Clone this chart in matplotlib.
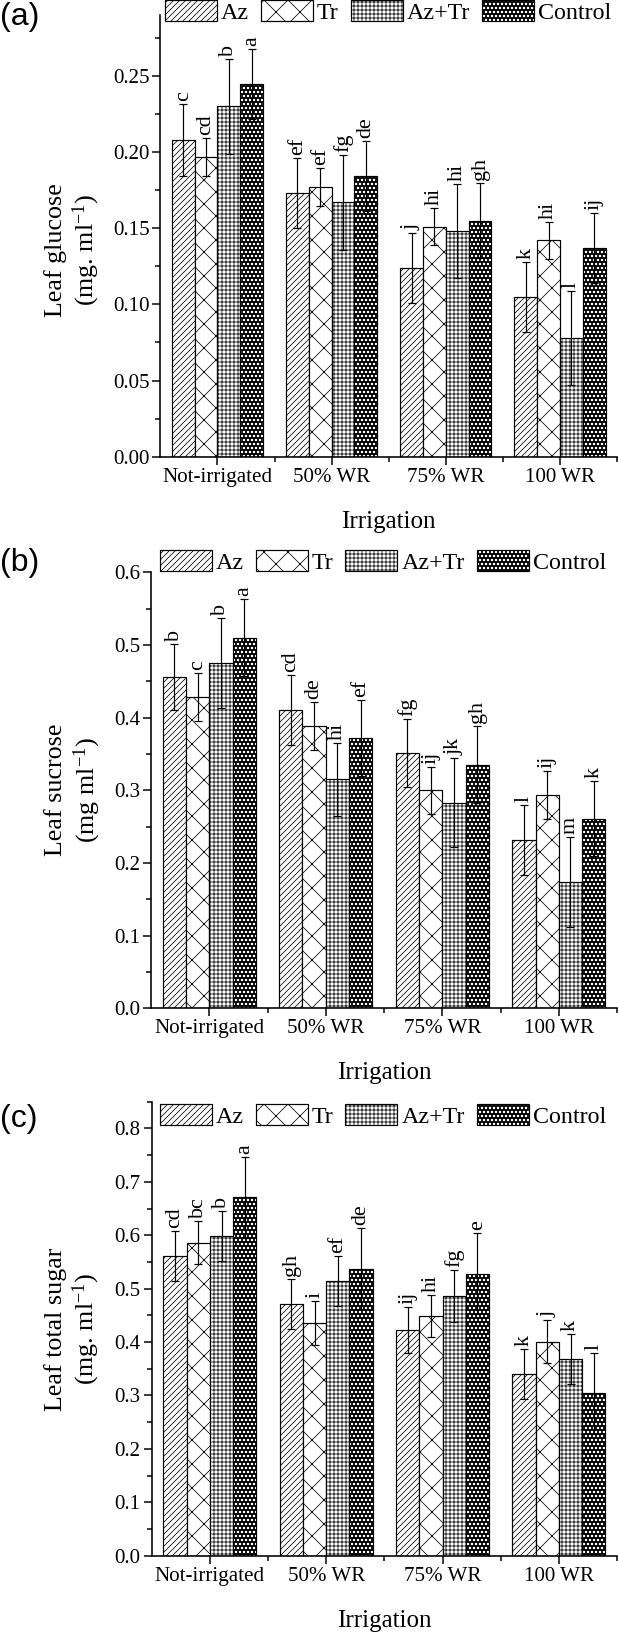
import numpy as np
import matplotlib
matplotlib.use('Agg')
import matplotlib.pyplot as plt
from matplotlib.patches import Patch
from matplotlib.ticker import MultipleLocator, FormatStrFormatter, FixedLocator

plt.rcParams['font.family'] = ['Liberation Serif', 'DejaVu Serif']
plt.rcParams['mathtext.fontset'] = 'custom'
plt.rcParams['mathtext.rm'] = 'Liberation Serif'
plt.rcParams['mathtext.it'] = 'Liberation Serif:italic'
plt.rcParams['hatch.linewidth'] = 0.75

groups = ['Not-irrigated', '50% WR', '75% WR', '100 WR']
treatments = ['Az', 'Tr', 'Az+Tr', 'Control']
hatches = ['////', 'x', '+++', 'ooo']

# rows = treatments (Az, Tr, Az+Tr, Control), cols = groups
glucose_mean = [[0.208, 0.173, 0.124, 0.105],
                [0.197, 0.177, 0.151, 0.142],
                [0.230, 0.167, 0.148, 0.078],
                [0.245, 0.184, 0.155, 0.137]]
glucose_err = [[0.0235, 0.023, 0.023, 0.023],
               [0.0125, 0.0125, 0.012, 0.012],
               [0.031, 0.031, 0.031, 0.031],
               [0.023, 0.023, 0.0245, 0.023]]
glucose_let = [['c', 'ef', 'j', 'k'],
               ['cd', 'ef', 'hi', 'hi'],
               ['b', 'fg', 'hi', 'l'],
               ['a', 'de', 'gh', 'ij']]

sucrose_mean = [[0.456, 0.410, 0.351, 0.232],
                [0.429, 0.389, 0.300, 0.294],
                [0.475, 0.315, 0.283, 0.174],
                [0.510, 0.372, 0.335, 0.261]]
sucrose_err = [[0.046, 0.048, 0.047, 0.048],
               [0.033, 0.033, 0.032, 0.033],
               [0.062, 0.050, 0.061, 0.062],
               [0.053, 0.052, 0.053, 0.052]]
sucrose_let = [['b', 'cd', 'fg', 'l'],
               ['c', 'de', 'ij', 'ij'],
               ['b', 'hi', 'jk', 'm'],
               ['a', 'ef', 'gh', 'k']]

total_mean = [[0.561, 0.471, 0.423, 0.340],
              [0.586, 0.436, 0.449, 0.401],
              [0.598, 0.515, 0.486, 0.368],
              [0.671, 0.537, 0.528, 0.304]]
total_err = [[0.047, 0.047, 0.043, 0.047],
             [0.040, 0.041, 0.040, 0.040],
             [0.047, 0.047, 0.048, 0.047],
             [0.076, 0.076, 0.076, 0.076]]
total_let = [['cd', 'gh', 'ij', 'k'],
             ['bc', 'i', 'hi', 'j'],
             ['b', 'ef', 'fg', 'k'],
             ['a', 'de', 'e', 'l']]

W, H = 618, 1633
fig = plt.figure(figsize=(W / 72.0, H / 72.0), dpi=72)


def fx(px):
    return px / float(W)


def fy(px):
    return 1 - px / float(H)


def draw_panel(ax, means, errs, letters, ymax, major, minor, fmt):
    x = np.arange(len(groups))
    width = 0.2
    for i, t in enumerate(treatments):
        pos = x + (i - 1.5) * width
        if t == 'Control':
            ax.bar(pos, means[i], width, color='black', edgecolor='white',
                   hatch=hatches[i], linewidth=0, zorder=2)
            ax.bar(pos, means[i], width, fill=False, edgecolor='black',
                   linewidth=1.2, zorder=2.1)
        else:
            ax.bar(pos, means[i], width, color='white', edgecolor='black',
                   hatch=hatches[i], linewidth=1.2, zorder=2)
        ax.errorbar(pos, means[i], yerr=errs[i], fmt='none', ecolor='black',
                    elinewidth=1.2, capsize=4, capthick=1.2, zorder=3)
        for p, m, e, lab in zip(pos, means[i], errs[i], letters[i]):
            ax.annotate(lab, (p, m + e), xytext=(0, 3), textcoords='offset points',
                        rotation=90, ha='center', va='bottom', fontsize=22)
    ax.set_xlim(-0.5, 3.5)
    ax.set_ylim(0, ymax)
    ax.set_xticks(x)
    ax.set_xticklabels(groups)
    ax.xaxis.set_minor_locator(FixedLocator([0.5, 1.5, 2.5, 3.5]))
    ax.yaxis.set_major_locator(MultipleLocator(major))
    ax.yaxis.set_minor_locator(MultipleLocator(minor))
    ax.yaxis.set_major_formatter(FormatStrFormatter(fmt))
    for s in ['top', 'right']:
        ax.spines[s].set_visible(False)
    for s in ['left', 'bottom']:
        ax.spines[s].set_linewidth(1.6)
    ax.tick_params(which='major', length=8, width=1.5, labelsize=21, pad=3)
    ax.tick_params(which='minor', length=5, width=1.5)
    ax.set_xlabel('Irrigation', fontsize=25, labelpad=24)


def add_legend(px_x, px_top):
    handles = [Patch(facecolor='white', edgecolor='black', hatch=hatches[0], lw=1.2),
               Patch(facecolor='white', edgecolor='black', hatch=hatches[1], lw=1.2),
               Patch(facecolor='white', edgecolor='black', hatch=hatches[2], lw=1.2),
               (Patch(facecolor='black', edgecolor='white', hatch=hatches[3], lw=0),
                Patch(fill=False, edgecolor='black', lw=1.2))]
    fig.legend(handles, treatments, loc='upper left',
               bbox_to_anchor=(fx(px_x), fy(px_top)), ncol=4, frameon=False,
               fontsize=24, handlelength=2.17, handleheight=0.96,
               handletextpad=0.17, columnspacing=0.49, borderpad=0,
               borderaxespad=0)


# (a) glucose
ax1 = fig.add_axes([fx(160.4), fy(456.7), fx(617 - 160.4), (456.7 - 15) / H])
draw_panel(ax1, glucose_mean, glucose_err, glucose_let, 0.29, 0.05, 0.025, '%.2f')
add_legend(164.8, 0)
fig.text(fx(73), fy(250), 'Leaf glucose\n(mg. ml$^{-1}$)', rotation=90,
         ha='center', va='center', fontsize=26, multialignment='center')
fig.text(0.0, fy(17), '(a)', family='Liberation Sans', fontsize=32,
         ha='left', va='center')

# (b) sucrose
ax2 = fig.add_axes([fx(151), fy(1008.3), fx(617.1 - 151), (1008.3 - 572.3) / H])
draw_panel(ax2, sucrose_mean, sucrose_err, sucrose_let, 0.6, 0.1, 0.05, '%.1f')
add_legend(159.6, 550)
fig.text(fx(74), fy(790), 'Leaf sucrose\n(mg ml$^{-1}$)', rotation=90,
         ha='center', va='center', fontsize=26, multialignment='center')
fig.text(0.0, fy(563), '(b)', family='Liberation Sans', fontsize=32,
         ha='left', va='center')

# (c) total sugar
ax3 = fig.add_axes([fx(151.7), fy(1555.7), fx(617.1 - 151.7), (1555.7 - 1101.7) / H])
draw_panel(ax3, total_mean, total_err, total_let, 0.85, 0.1, 0.05, '%.1f')
add_legend(159.6, 1104)
fig.text(fx(73), fy(1329), 'Leaf total sugar\n(mg. ml$^{-1}$)', rotation=90,
         ha='center', va='center', fontsize=26, multialignment='center')
fig.text(0.0, fy(1119), '(c)', family='Liberation Sans', fontsize=32,
         ha='left', va='center')

fig.savefig('out.png', dpi=72)
